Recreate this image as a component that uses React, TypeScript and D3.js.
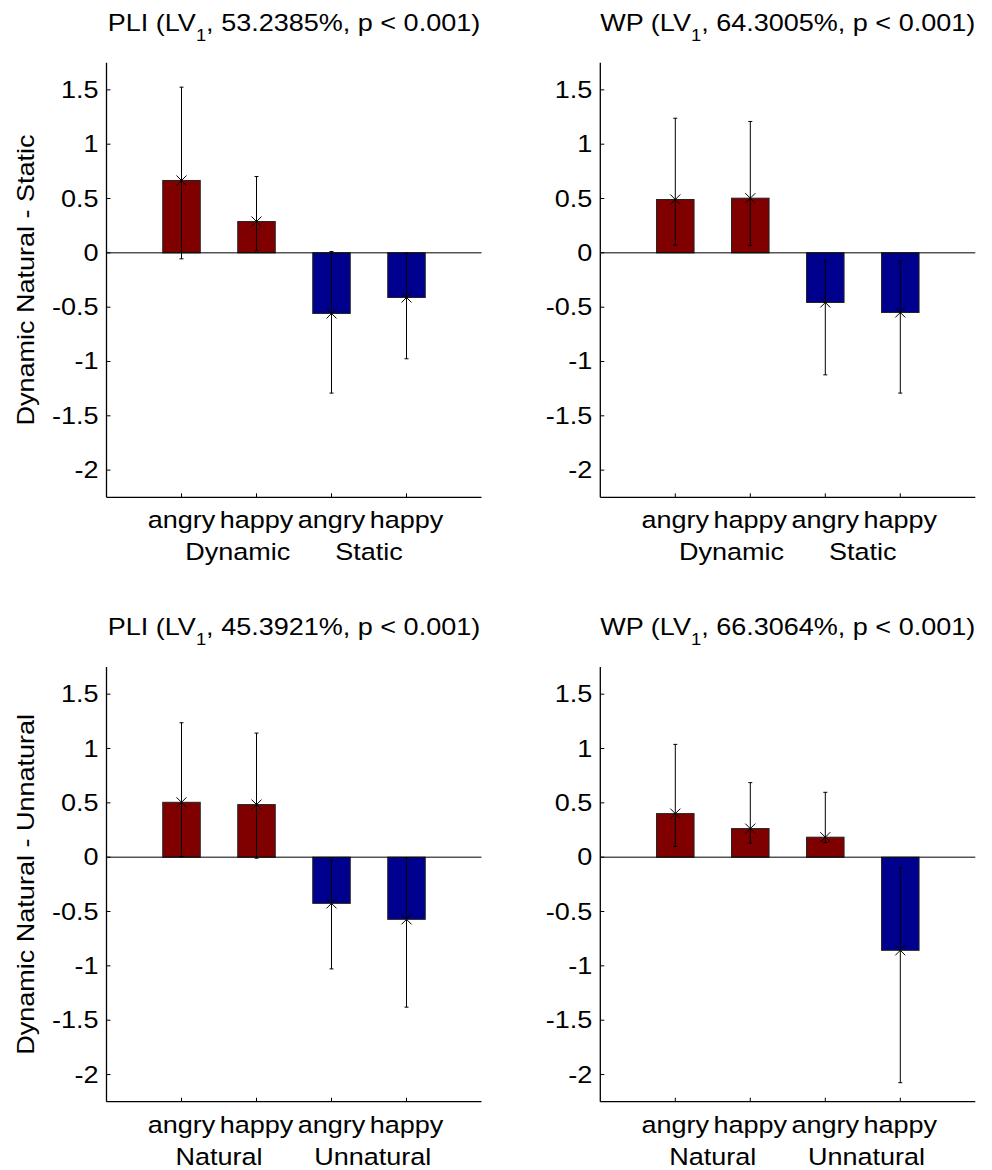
import React from "react";
import * as d3 from "d3";

// bar order: angry, happy, angry, happy
const conditions = ["angry", "happy", "angry", "happy"];
const yTicks = [1.5, 1, 0.5, 0, -0.5, -1, -1.5, -2];

const titles = [
  { name: "PLI", pct: "53.2385%" },
  { name: "WP", pct: "64.3005%" },
  { name: "PLI", pct: "45.3921%" },
  { name: "WP", pct: "66.3064%" },
];
const rowGroups = [
  ["Dynamic", "Static"],
  ["Natural", "Unnatural"],
];
const rowGroupX = [
  [1.75, 3.5],
  [1.5, 3.55],
];
const rowYLabel = ["Dynamic Natural - Static", "Dynamic Natural - Unnatural"];

const means = [
  [0.666, 0.288, -0.558, -0.411],
  [0.491, 0.503, -0.457, -0.549],
  [0.505, 0.484, -0.425, -0.572],
  [0.401, 0.263, 0.184, -0.857],
];
const errHigh = [
  [1.525, 0.702, 0.012, -0.003],
  [1.239, 1.209, -0.074, -0.074],
  [1.237, 1.142, -0.028, -0.006],
  [1.038, 0.686, 0.597, -0.098],
];
const errLow = [
  [-0.055, 0.021, -1.291, -0.975],
  [0.071, 0.067, -1.123, -1.291],
  [0.005, -0.009, -1.028, -1.38],
  [0.098, 0.129, 0.135, -2.075],
];

const W = 992;
const H = 1170;
const FONT = "'Liberation Sans', Arial, sans-serif";
const RED = "#800000";
const BLUE = "#00008f";
const FS = 23.5;
const STRETCH = 1.15;

const panelBox = [
  { x: 106.5, top: 62.7, bottom: 497.3 },
  { x: 600.3, top: 62.7, bottom: 497.3 },
  { x: 106.5, top: 667, bottom: 1101.7 },
  { x: 600.3, top: 667, bottom: 1101.7 },
];
const PW = 375;

// text with the slightly wide glyphs of the original export
function T({ x, y, anchor = "middle", rotate = 0, children }: any) {
  return (
    <g transform={`translate(${x},${y}) rotate(${rotate}) scale(${STRETCH},1)`}>
      <text x={0} y={0} fontSize={FS} textAnchor={anchor}>
        {children}
      </text>
    </g>
  );
}

function Panel({ i }: { i: number }) {
  const box = panelBox[i];
  const row = Math.floor(i / 2);
  const col = i % 2;
  const x = d3.scaleLinear().domain([0, 5]).range([box.x, box.x + PW]);
  const y = d3.scaleLinear().domain([-2.25, 1.75]).range([box.bottom, box.top]);
  const bw = x(0.5) - x(0);
  const cx = box.x + PW / 2;

  return (
    <g fontFamily={FONT} fill="#000">
      <T x={cx} y={box.top - 32}>
        {titles[i].name + " (LV"}
        <tspan fontSize={16} dy={10}>1</tspan>
        <tspan dy={-10}>{", " + titles[i].pct + ", p < 0.001)"}</tspan>
      </T>

      {means[i].map((m, k) => {
        const xc = x(k + 1);
        return (
          <rect
            key={"b" + k}
            x={xc - bw / 2}
            y={Math.min(y(m), y(0))}
            width={bw}
            height={Math.abs(y(m) - y(0))}
            fill={m >= 0 ? RED : BLUE}
            stroke="#222"
            strokeWidth={1}
          />
        );
      })}

      <line x1={box.x} x2={box.x + PW} y1={y(0)} y2={y(0)} stroke="#000" strokeWidth={1} />

      {means[i].map((m, k) => {
        const xc = x(k + 1);
        const hi = y(errHigh[i][k]);
        const lo = y(errLow[i][k]);
        const my = y(m);
        const s = 5;
        return (
          <g key={"e" + k} stroke="#000" strokeWidth={1}>
            <line x1={xc} x2={xc} y1={hi} y2={lo} />
            <line x1={xc - 2} x2={xc + 2} y1={hi} y2={hi} />
            <line x1={xc - 2} x2={xc + 2} y1={lo} y2={lo} />
            <line x1={xc - s} x2={xc + s} y1={my - s} y2={my + s} />
            <line x1={xc - s} x2={xc + s} y1={my + s} y2={my - s} />
          </g>
        );
      })}

      {/* axes */}
      <line x1={box.x} x2={box.x} y1={box.top} y2={box.bottom} stroke="#000" strokeWidth={1.3} />
      <line x1={box.x} x2={box.x + PW} y1={box.bottom} y2={box.bottom} stroke="#000" strokeWidth={1.3} />
      {yTicks.map((t) => (
        <g key={"yt" + t}>
          <line x1={box.x} x2={box.x + 4} y1={y(t)} y2={y(t)} stroke="#000" strokeWidth={1} />
          <T x={box.x - 8} y={y(t) + 8} anchor="end">
            {String(t)}
          </T>
        </g>
      ))}
      {conditions.map((c, k) => (
        <g key={"xt" + k}>
          <line x1={x(k + 1)} x2={x(k + 1)} y1={box.bottom} y2={box.bottom - 4} stroke="#000" strokeWidth={1} />
          <T x={x(k + 1)} y={box.bottom + 31}>
            {c}
          </T>
        </g>
      ))}
      {rowGroups[row].map((g, k) => (
        <T key={"g" + k} x={x(rowGroupX[row][k])} y={box.bottom + 63}>
          {g}
        </T>
      ))}
      {col === 0 && (
        <T x={34} y={(box.top + box.bottom) / 2} rotate={-90}>
          {rowYLabel[row]}
        </T>
      )}
    </g>
  );
}

export default function App() {
  return (
    <svg
      width={W}
      height={H}
      style={{ position: "absolute", left: 0, top: 0, background: "#fff" }}
    >
      <rect width={W} height={H} fill="#fff" />
      {[0, 1, 2, 3].map((i) => (
        <Panel key={i} i={i} />
      ))}
    </svg>
  );
}
